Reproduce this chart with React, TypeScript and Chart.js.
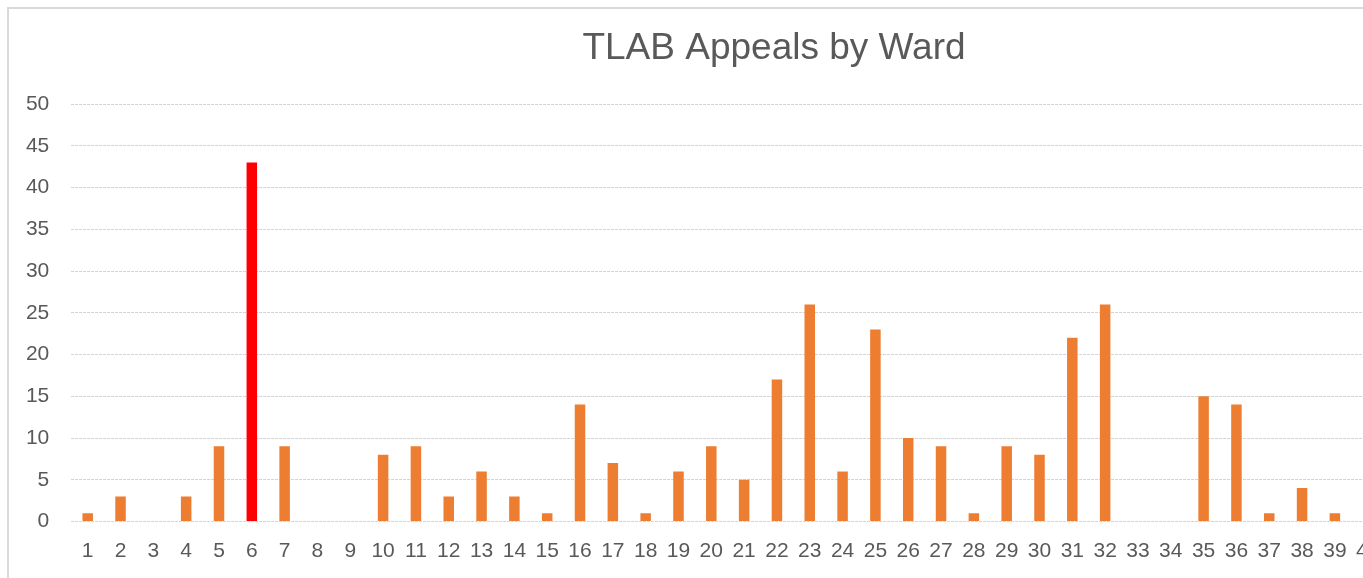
import React, { useEffect, useRef } from "react";
import { Chart, registerables } from "chart.js";

Chart.register(...registerables);

const TITLE = "TLAB Appeals by Ward";
const WARDS = [
  "1", "2", "3", "4", "5", "6", "7", "8", "9", "10",
  "11", "12", "13", "14", "15", "16", "17", "18", "19", "20",
  "21", "22", "23", "24", "25", "26", "27", "28", "29", "30",
  "31", "32", "33", "34", "35", "36", "37", "38", "39", "40",
  "41", "42", "43", "44",
];
// wards 40-44 are cut off in the reference; their values are not visible
const APPEALS: (number | null)[] = [
  1, 3, 0, 3, 9, 43, 9, 0, 0, 8,
  9, 3, 6, 3, 1, 14, 7, 1, 6, 9,
  5, 17, 26, 6, 23, 10, 9, 1, 9, 8,
  22, 26, 0, 0, 15, 14, 1, 4, 1, null,
  null, null, null, null,
];
const HIGHLIGHT_WARD = "6";
const Y_TICKS = { min: 0, max: 50, step: 5 };

const ORANGE = "#ED7D31";
const RED = "#FF0000";
const TEXT = "#595959";
const GRID = "#d4d4d4";
const FONT = "'Liberation Sans', Arial, sans-serif";

export default function App() {
  const ref = useRef<HTMLCanvasElement | null>(null);

  useEffect(() => {
    if (!ref.current) return;
    const colors = WARDS.map((w) => (w === HIGHLIGHT_WARD ? RED : ORANGE));
    const chart = new Chart(ref.current, {
      type: "bar",
      data: {
        labels: WARDS,
        datasets: [
          {
            data: APPEALS,
            backgroundColor: colors,
            borderWidth: 0,
            barPercentage: 0.32,
            categoryPercentage: 1,
            yAxisID: "y",
          },
        ],
      },
      options: {
        animation: false,
        responsive: false,
        devicePixelRatio: 1,
        layout: { padding: { left: 0, right: 0, top: 0, bottom: 0 } },
        plugins: {
          legend: { display: false },
          tooltip: { enabled: false },
          title: {
            display: true,
            text: TITLE,
            color: TEXT,
            font: { family: FONT, size: 37, weight: "normal" },
            padding: { top: 17, bottom: 32.6 },
          },
        },
        scales: {
          x: {
            grid: { display: false, drawTicks: false },
            border: { display: false },
            ticks: {
              color: TEXT,
              font: { family: FONT, size: 21 },
              padding: 17,
              maxRotation: 0,
              autoSkip: false,
            },
            afterFit: (s: any) => {
              s.height = 56.5;
            },
          },
          y: {
            position: "left",
            min: Y_TICKS.min,
            max: Y_TICKS.max,
            grid: {
              color: GRID,
              drawTicks: false,
              lineWidth: 1,
            },
            border: { display: false, dash: [3, 1] },
            ticks: {
              stepSize: Y_TICKS.step,
              color: TEXT,
              font: { family: FONT, size: 21 },
              padding: 22,
            },
            afterFit: (s: any) => {
              s.width = 61.3;
            },
          },
          yRightSpace: {
            position: "right",
            display: true,
            min: Y_TICKS.min,
            max: Y_TICKS.max,
            grid: { display: false, drawTicks: false },
            border: { display: false },
            ticks: { display: false },
            afterFit: (s: any) => {
              s.width = 22.6;
            },
          },
        },
      },
    });
    return () => chart.destroy();
  }, []);

  return (
    <div
      style={{
        position: "fixed",
        left: 0,
        top: 0,
        width: 1363,
        height: 578,
        overflow: "hidden",
        background: "#ffffff",
      }}
    >
      <div
        style={{
          position: "absolute",
          left: 7,
          top: 7,
          width: 1560,
          height: 640,
          borderLeft: "2px solid #d9d9d9",
          borderTop: "2px solid #d9d9d9",
          boxSizing: "border-box",
        }}
      />
      <canvas
        ref={ref}
        width={1528}
        height={568}
        style={{ position: "absolute", left: 10, top: 10, width: 1528, height: 568 }}
      />
    </div>
  );
}
